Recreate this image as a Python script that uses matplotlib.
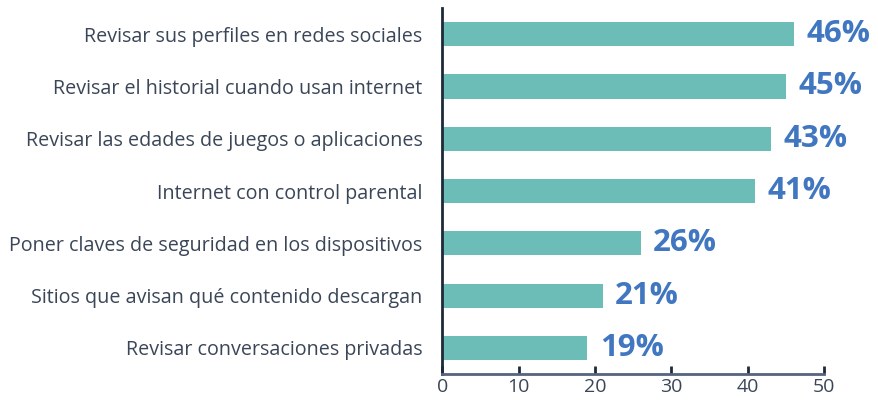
import matplotlib.pyplot as plt
import numpy as np

categories = ["Revisar sus perfiles en redes sociales",
              "Revisar el historial cuando usan internet",
              "Revisar las edades de juegos o aplicaciones",
              "Internet con control parental",
              "Poner claves de seguridad en los dispositivos",
              "Sitios que avisan qué contenido descargan",
              "Revisar conversaciones privadas"]
values = [46, 45, 43, 41, 26, 21, 19]
x_ticks = [0, 10, 20, 30, 40, 50]

plt.rcParams['font.family'] = ['Open Sans', 'DejaVu Sans']

fig = plt.figure(figsize=(8.79, 4.01), dpi=100)
ax = fig.add_axes([0.503, 0.067, 0.4345, 0.913])

y = np.arange(len(categories))
ax.barh(y, values, height=0.46, color="#6cbcb8")
for yi, v in zip(y, values):
    ax.annotate(f"{v}%", (v, yi), xytext=(9, 0), textcoords="offset points",
                va="center", ha="left", fontsize=22.5, fontweight="bold", color="#4177c0")

ax.set_ylim(len(categories) - 0.5, -0.5)
ax.set_xlim(0, 50)
ax.set_yticks(y)
ax.set_yticklabels(categories, fontsize=14.2, color="#3a4658")
ax.set_xticks(x_ticks)
ax.set_xticklabels(x_ticks, fontsize=14, color="#3a4658")
ax.tick_params(axis="y", length=0, pad=14)
ax.tick_params(axis="x", direction="in", length=6, width=2, color="#1e2a3a", pad=3)

for s in ["top", "right"]:
    ax.spines[s].set_visible(False)
ax.spines["left"].set_color("#1e2a3a")
ax.spines["left"].set_linewidth(2)
ax.spines["bottom"].set_color("#56647e")
ax.spines["bottom"].set_linewidth(2)

fig.savefig("out.png", dpi=100)
